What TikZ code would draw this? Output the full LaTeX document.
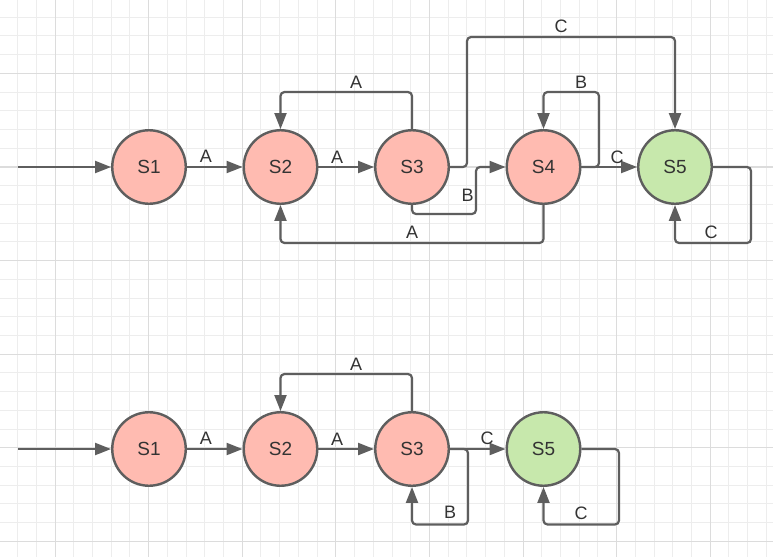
\documentclass[tikz,border=0pt]{standalone}
\usepackage{fontspec}
\setmainfont{Liberation Sans}
\usetikzlibrary{arrows.meta}
\definecolor{edgegray}{HTML}{5E5E5E}
\definecolor{statered}{HTML}{FFBBB1}
\definecolor{stategreen}{HTML}{C7E8AC}
\definecolor{gridminor}{HTML}{EDEDED}
\definecolor{gridmajor}{HTML}{DCDCDC}
\definecolor{textgray}{HTML}{333333}
\begin{document}
\begin{tikzpicture}[x=1pt,y=-1pt,
  state/.style={circle,draw=edgegray,line width=2.4pt,minimum size=73.5pt,
    inner sep=0pt,font=\fontsize{19}{19}\selectfont,text=textgray},
  plain/.style={state,fill=statered},
  final/.style={state,fill=stategreen},
  wire/.style={draw=edgegray,line width=2.2pt,rounded corners=4pt},
  edge/.style={wire,-{Triangle[length=16pt,width=12pt]}},
  lbl/.style={font=\fontsize{18}{18}\selectfont,text=textgray,inner sep=0pt}]
\useasboundingbox (0,0) rectangle (773,557);
\fill[white] (0,0) rectangle (773,557);

% background grid
\foreach \i in {0,...,42}{
  \pgfmathsetmacro\gx{-1.1+18.72*\i}
  \draw[gridminor,line width=1pt] (\gx,0) -- (\gx,557);
}
\foreach \i in {0,...,30}{
  \pgfmathsetmacro\gy{-1.5+18.72*\i}
  \draw[gridminor,line width=1pt] (0,\gy) -- (773,\gy);
}
\foreach \i in {0,...,7}{
  \pgfmathsetmacro\gx{55.1+93.6*\i}
  \draw[gridmajor,line width=1.1pt] (\gx,0) -- (\gx,557);
}
\foreach \i in {0,...,5}{
  \pgfmathsetmacro\gy{73.4+93.6*\i}
  \draw[gridmajor,line width=1.1pt] (0,\gy) -- (773,\gy);
}

% ---------- first automaton ----------
\node[plain] (a1) at (149,167) {S1};
\node[plain] (a2) at (280.5,167) {S2};
\node[plain] (a3) at (412,167) {S3};
\node[plain] (a4) at (543.5,167) {S4};
\node[final] (a5) at (675,167) {S5};
\coordinate (astart) at (18,167);

\draw[edge] (astart) -- (a1.west);
\draw[edge] (a1.east) -- (a2.west);
\draw[edge] (a2.east) -- (a3.west);
\draw[edge] (a3.north) -- (412,92) -- (280.5,92) -- (a2.north);
\draw[edge] (a3.east) -- (467,167) -- (467,37) -- (675,37) -- (a5.north);
\draw[edge] (a3.south) -- (412,214) -- (476,214) -- (476,167) -- (a4.west);
\draw[edge] (a4.south) -- (543.5,243) -- (280.5,243) -- (a2.south);
\draw[edge] (a4.east) -- (a5.west);
\draw[edge] (a4.east) -- (599,167) -- (599,92) -- (543.5,92) -- (a4.north);
\draw[edge] (a5.east) -- (751,167) -- (751,243) -- (675,243) -- (a5.south);

\node[lbl] (la12) at (206,156) {A};
\node[lbl] (la23) at (337,157) {A};
\node[lbl] (la32) at (356,82.5) {A};
\node[lbl] (la42) at (412,232.5) {A};
\node[lbl] (la35) at (561,26) {C};
\node[lbl] (la44) at (581,82) {B};
\node[lbl] (la45) at (617,157) {C};
\node[lbl] (la34) at (467.5,195) {B};
\node[lbl] (la55) at (711,232) {C};

% ---------- second automaton ----------
\node[plain] (b1) at (149,449) {S1};
\node[plain] (b2) at (280.5,449) {S2};
\node[plain] (b3) at (412,449) {S3};
\node[final] (b5) at (543.5,449) {S5};
\coordinate (bstart) at (18,449);

\draw[edge] (bstart) -- (b1.west);
\draw[edge] (b1.east) -- (b2.west);
\draw[edge] (b2.east) -- (b3.west);
\draw[edge] (b3.north) -- (412,374) -- (280.5,374) -- (b2.north);
\draw[edge] (b3.east) -- (b5.west);
\draw[edge] (b3.east) -- (468,449) -- (468,524.5) -- (412,524.5) -- (b3.south);
\draw[edge] (b5.east) -- (619,449) -- (619,524.5) -- (543.5,524.5) -- (b5.south);

\node[lbl] (lb12) at (206,438) {A};
\node[lbl] (lb23) at (337,439) {A};
\node[lbl] (lb32) at (356,364) {A};
\node[lbl] (lb35) at (487,438) {C};
\node[lbl] (lb33) at (450,512.5) {B};
\node[lbl] (lb55) at (581,513) {C};
\end{tikzpicture}
\end{document}
